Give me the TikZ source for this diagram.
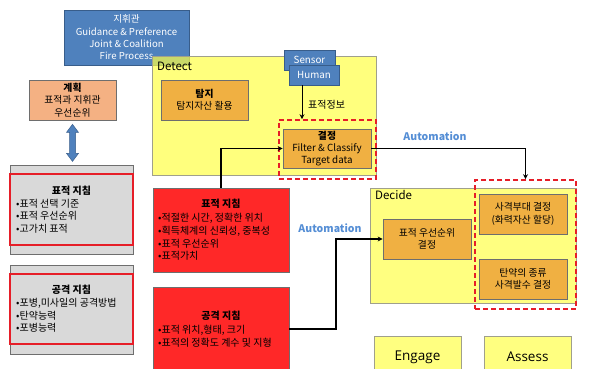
\documentclass[tikz,border=0pt]{standalone}
\usepackage{fontspec}
\setmainfont{Noto Sans CJK KR}
\newfontfamily\engfont{Open Sans}
\usetikzlibrary{arrows.meta}
\definecolor{cBlue}{RGB}{79,129,189}
\definecolor{cBlueD}{RGB}{56,93,138}
\definecolor{cYel}{RGB}{255,255,70}
\definecolor{cYel2}{RGB}{255,255,128}
\definecolor{cYelD}{RGB}{160,160,140}
\definecolor{cOr}{RGB}{240,176,66}
\definecolor{cSal}{RGB}{244,177,131}
\definecolor{cGry}{RGB}{217,217,217}
\definecolor{cGryD}{RGB}{110,110,110}
\definecolor{cRed}{RGB}{255,40,40}
\definecolor{cRedD}{RGB}{230,30,40}
\definecolor{cAuto}{RGB}{85,142,213}
\begin{document}
\begin{tikzpicture}[x=1pt,y=-1pt,
  base/.style={inner sep=0pt, align=center, font=\fontsize{9.8}{12.3}\selectfont},
  bluebox/.style={base, fill=cBlue, draw=cBlueD, line width=0.8pt, text=white},
  orbox/.style={base, fill=cOr, draw=cGryD, line width=0.7pt},
  salbox/.style={base, fill=cSal, draw=cGryD, line width=0.7pt},
  yelbox/.style={base, fill=cYel2, draw=cYelD, line width=0.7pt},
  grybox/.style={base, fill=cGry, draw=cGryD, line width=0.7pt},
  redbox/.style={base, fill=cRed, draw=cGryD, line width=0.7pt},
  redline/.style={draw=cRedD, line width=1.5pt},
  dashbox/.style={draw=cRedD, line width=1.6pt, dash pattern=on 5pt off 3pt},
  txt/.style={inner sep=0pt, font=\fontsize{10}{12.7}\selectfont},
  ttl/.style={txt, font=\fontsize{10}{12.7}\selectfont\bfseries},
  lst/.style={txt, align=left, anchor=west},
  conn/.style={draw=black, line width=1.1pt, -{Stealth[length=5pt,width=5pt]}},
  auto/.style={inner sep=0pt, text=cAuto, font=\fontsize{10.5}{12}\selectfont\bfseries},
  phase/.style={inner sep=0pt, anchor=west, font=\fontsize{11.5}{13}\selectfont},
  sz/.style 2 args={minimum width=#1, minimum height=#2}
]
\useasboundingbox (0,0) rectangle (591,369);
% commander
\node[bluebox, sz={125pt}{55pt}, font=\fontsize{9.6}{12.3}\selectfont] (cmd) at (126.5,37.5) {지휘관\\Guidance \& Preference\\Joint \& Coalition\\Fire Process};
% Detect box
\node[base, fill=cYel, fill opacity=0.7, draw=cYelD, line width=0.7pt, sz={224pt}{119pt}] (detect) at (264,115.5) {};
\node[phase] (detectlbl) at (157,66) {Detect};
\node[orbox, sz={87pt}{40pt}] (tamji) at (204.5,100) {\textbf{탐지}\\탐지자산 활용};
\node[salbox, sz={87pt}{40pt}] (plan) at (72.5,100) {\textbf{계획}\\표적과 지휘관\\우선순위};
\node[bluebox, sz={51pt}{20pt}] (sensor) at (309.5,60) {Sensor};
\node[bluebox, sz={50pt}{20pt}] (human) at (314,75) {Human};
\node[dashbox, inner sep=0pt, sz={97pt}{59pt}] (dash1) at (327.5,149.5) {};
\node[orbox, sz={88pt}{39pt}] (jj) at (327,148.5) {\textbf{결정}\\Filter \& Classify\\Target data};
\node[txt, anchor=west] (info) at (308,105) {표적정보};
% Decide
\node[yelbox, sz={206pt}{115pt}] (decide) at (473,245.5) {};
\node[phase] (decidelbl) at (375,195) {Decide};
\node[orbox, sz={88pt}{40pt}] (prio) at (427,239) {표적 우선순위\\결정};
\node[dashbox, inner sep=0pt, sz={101pt}{129pt}] (dash2) at (525.5,244.5) {};
\node[orbox, sz={88pt}{40pt}] (unit) at (523,214) {사격부대 결정\\(화력자산 할당)};
\node[orbox, sz={88pt}{40pt}] (ammo) at (523,279) {탄약의 종류\\사격발수 결정};
% gray boxes
\node[grybox, sz={123pt}{89pt}] (gray1) at (71.5,209.5) {};
\node[redline, inner sep=0pt, sz={123pt}{71pt}] (gray1r) at (71.5,209.5) {};
\node[ttl] (g1t) at (71.5,191) {표적 지침};
\node[lst] (g1l) at (16,216) {•표적 선택 기준\\•표적 우선순위\\•고가치 표적};
\node[grybox, sz={123pt}{89pt}] (gray2) at (71.5,309.5) {};
\node[redline, inner sep=0pt, sz={123pt}{70pt}] (gray2r) at (71.5,309) {};
\node[ttl] (g2t) at (71.5,290) {공격 지침};
\node[lst] (g2l) at (16,315.5) {•포병,미사일의 공격방법\\•탄약능력\\•포병능력};
% red boxes
\node[redbox, sz={136pt}{84pt}] (red1) at (221,230) {};
\node[ttl] (r1t) at (221,204) {표적 지침};
\node[lst] (r1l) at (158,237) {•적절한 시간, 정확한 위치\\•획득체계의 신뢰성, 중복성\\•표적 우선순위\\•표적가치};
\node[redbox, sz={136pt}{88pt}] (red2) at (221,331) {};
\node[ttl] (r2t) at (221,316) {공격 지침};
\node[lst] (r2l) at (158,336) {•표적 위치,형태, 크기\\•표적의 정확도 계수 및 지형};
% Engage / Assess
\node[yelbox, sz={87pt}{42pt}, font=\engfont\fontsize{13.5}{15}\selectfont] (engage) at (417.5,357) {Engage};
\node[yelbox, sz={87pt}{42pt}, font=\engfont\fontsize{13.5}{15}\selectfont] (assess) at (527.5,357) {Assess};
% labels
\node[auto] (auto1) at (435,136) {Automation};
\node[auto] (auto2) at (330,228) {Automation};
% connectors
\draw[conn, line width=0.8pt] ([xshift=-12pt]human.south) -- ([xshift=-12pt]human.south |- dash1.north);
\draw[conn] (red1.north) |- (jj.west);
\draw[conn] (jj.east) -| (dash2.north);
\draw[conn] (red2.east |- 0,329) -- (336,329) |- (prio.west);
\draw[draw=cBlueD, fill=cBlue, line width=0.5pt]
  ([yshift=-4pt]plan.south) -- ++(-6,8) -- ++(3,0) -- ++(0,21) -- ++(-3,0) -- ++(6,8) -- ++(6,-8) -- ++(-3,0) -- ++(0,-21) -- ++(3,0) -- cycle;
\end{tikzpicture}
\end{document}
